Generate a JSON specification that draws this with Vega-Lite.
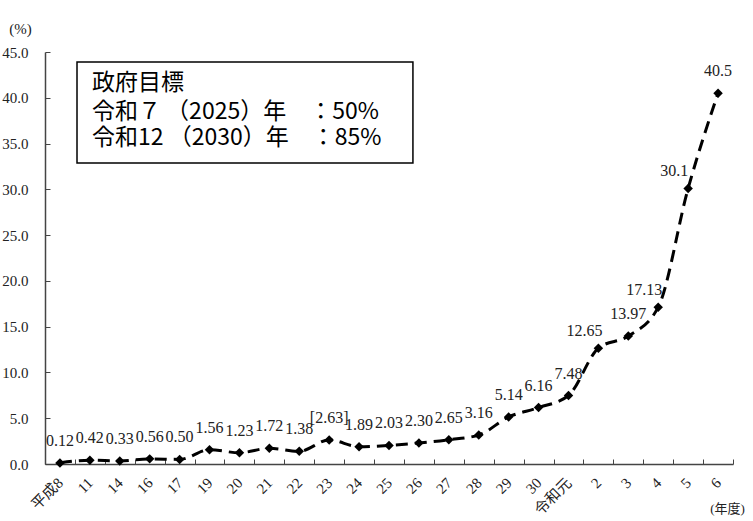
{
  "$schema": "https://vega.github.io/schema/vega-lite/v6.json",
  "width": 688,
  "height": 412,
  "autosize": {"type": "none"},
  "padding": {"left": 45, "top": 52, "right": 20, "bottom": 57},
  "background": "white",
  "config": {"view": {"stroke": null}},
  "datasets": {
    "rate": [
      {"year": "平成8", "value": 0.12, "label": "0.12"},
      {"year": "11", "value": 0.42, "label": "0.42"},
      {"year": "14", "value": 0.33, "label": "0.33"},
      {"year": "16", "value": 0.56, "label": "0.56"},
      {"year": "17", "value": 0.50, "label": "0.50"},
      {"year": "19", "value": 1.56, "label": "1.56"},
      {"year": "20", "value": 1.23, "label": "1.23"},
      {"year": "21", "value": 1.72, "label": "1.72"},
      {"year": "22", "value": 1.38, "label": "1.38"},
      {"year": "23", "value": 2.63, "label": "[2.63]"},
      {"year": "24", "value": 1.89, "label": "1.89"},
      {"year": "25", "value": 2.03, "label": "2.03"},
      {"year": "26", "value": 2.30, "label": "2.30"},
      {"year": "27", "value": 2.65, "label": "2.65"},
      {"year": "28", "value": 3.16, "label": "3.16"},
      {"year": "29", "value": 5.14, "label": "5.14"},
      {"year": "30", "value": 6.16, "label": "6.16"},
      {"year": "令和元", "value": 7.48, "label": "7.48"},
      {"year": "2", "value": 12.65, "label": "12.65"},
      {"year": "3", "value": 13.97, "label": "13.97"},
      {"year": "4", "value": 17.13, "label": "17.13"},
      {"year": "5", "value": 30.1, "label": "30.1"},
      {"year": "6", "value": 40.5, "label": "40.5"}
    ],
    "box": [{"x1": 1.07, "x2": 12.3, "y1": 43.9, "y2": 32.87}],
    "goal": [
      {"pos": 1.57, "value": 41.6, "text": "政府目標"},
      {"pos": 1.57, "value": 38.45, "text": "令和７  （2025）年　：50%"},
      {"pos": 1.57, "value": 35.6, "text": "令和12 （2030）年　：85%"}
    ]
  },
  "layer": [
    {
      "data": {"name": "rate"},
      "encoding": {
        "x": {
          "field": "year",
          "type": "nominal",
          "sort": null,
          "scale": {"type": "band", "paddingInner": 0, "paddingOuter": 0},
          "axis": {
            "title": "(年度)",
            "titleX": 682,
            "titleY": 44,
            "titleAlign": "center",
            "titleBaseline": "middle",
            "titleFont": "Liberation Serif, Noto Sans CJK JP",
            "titleFontSize": 13,
            "titleFontWeight": "normal",
            "titleColor": "#222",
            "labelAngle": -45,
            "labelAlign": "right",
            "labelBaseline": "middle",
            "labelFont": "Liberation Serif, Noto Sans CJK JP",
            "labelFontSize": 15,
            "labelColor": "#222",
            "labelPadding": 21,
            "tickBand": "extent",
            "tickSize": -5,
            "tickColor": "#444",
            "domainColor": "#444",
            "domainWidth": 1.5,
            "grid": false
          }
        },
        "y": {
          "field": "value",
          "type": "quantitative",
          "scale": {"domain": [0, 45], "nice": false},
          "axis": {
            "values": [0, 5, 10, 15, 20, 25, 30, 35, 40, 45],
            "format": ".1f",
            "title": "(%)",
            "titleAngle": 0,
            "titleX": -25,
            "titleY": -24,
            "titleAlign": "center",
            "titleBaseline": "middle",
            "titleFont": "Liberation Serif",
            "titleFontSize": 15,
            "titleFontWeight": "normal",
            "titleColor": "#222",
            "labelFont": "Liberation Serif",
            "labelFontSize": 15,
            "labelColor": "#222",
            "labelPadding": 22,
            "tickSize": -5,
            "tickColor": "#444",
            "domainColor": "#444",
            "domainWidth": 1.5,
            "grid": false
          }
        }
      },
      "layer": [
        {
          "mark": {"type": "line", "color": "black", "strokeWidth": 3, "strokeDash": [12, 7], "interpolate": "monotone"}
        },
        {
          "mark": {"type": "point", "shape": "diamond", "filled": true, "color": "black", "size": 90, "opacity": 1}
        },
        {
          "transform": [{"filter": "datum.year !== '2' && datum.year !== '4' && datum.year !== '5'"}],
          "mark": {"type": "text", "dy": -22, "font": "Liberation Serif", "fontSize": 16, "color": "#222", "baseline": "middle"},
          "encoding": {"text": {"field": "label"}}
        },
        {
          "transform": [{"filter": "datum.year === '2' || datum.year === '4' || datum.year === '5'"}],
          "mark": {"type": "text", "dx": -14, "dy": -17, "font": "Liberation Serif", "fontSize": 16, "color": "#222", "baseline": "middle"},
          "encoding": {"text": {"field": "label"}}
        }
      ]
    },
    {
      "layer": [
        {
          "data": {"name": "box"},
          "mark": {"type": "rect", "fill": "white", "stroke": "black", "strokeWidth": 1.5},
          "encoding": {
            "x": {"field": "x1", "type": "quantitative", "scale": {"domain": [0, 23], "nice": false}, "axis": null},
            "x2": {"field": "x2"},
            "y": {"field": "y1", "type": "quantitative"},
            "y2": {"field": "y2"}
          }
        },
        {
          "data": {"name": "goal"},
          "mark": {"type": "text", "align": "left", "baseline": "middle", "font": "Noto Sans CJK JP", "fontSize": 23, "color": "black"},
          "encoding": {
            "x": {"field": "pos", "type": "quantitative", "scale": {"domain": [0, 23], "nice": false}, "axis": null},
            "y": {"field": "value", "type": "quantitative"},
            "text": {"field": "text"}
          }
        }
      ]
    }
  ],
  "resolve": {"scale": {"x": "independent"}}
}
